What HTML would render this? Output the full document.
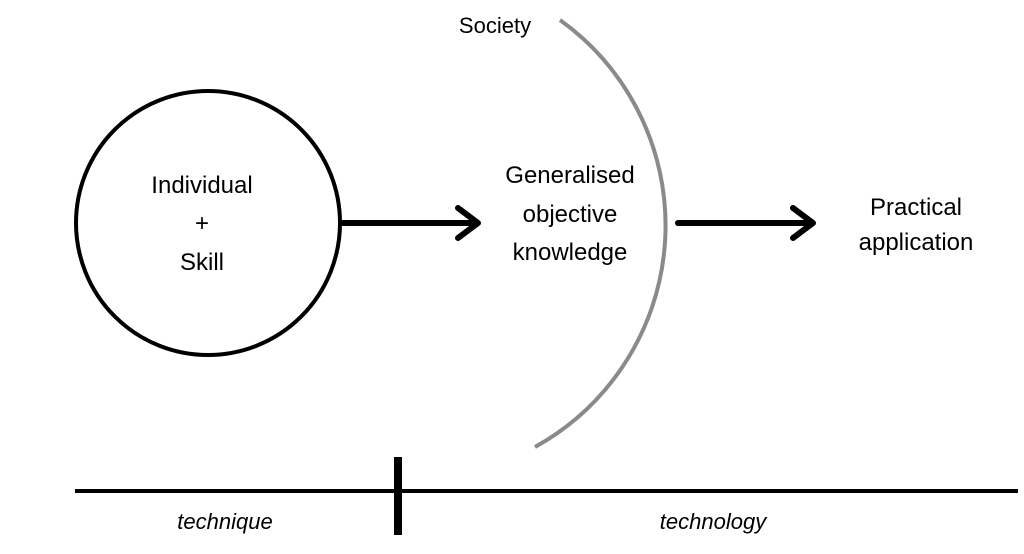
<!DOCTYPE html>
<html><head><style>body{margin:0;background:#fff}</style></head><body>
<svg width="1024" height="549" viewBox="0 0 1024 549" xmlns="http://www.w3.org/2000/svg" font-family="Liberation Sans, sans-serif" font-size="24" fill="#000">
<rect width="1024" height="549" fill="#fff"/>
<circle cx="208" cy="223" r="132" fill="none" stroke="#000" stroke-width="4"/>
<path d="M560 20 A253 253 0 0 1 535 447" fill="none" stroke="#8a8a8a" stroke-width="4"/>
<g stroke="#000" stroke-width="6" fill="none" stroke-linecap="round" stroke-linejoin="round">
<line x1="343" y1="223" x2="477" y2="223"/>
<polyline points="458,208 478,223 458,238"/>
<line x1="678" y1="223" x2="812" y2="223"/>
<polyline points="793,208 813,223 793,238"/>
</g>
<line x1="75" y1="491" x2="1018" y2="491" stroke="#000" stroke-width="4"/>
<rect x="394" y="457" width="8" height="78" fill="#000"/>
<g text-anchor="middle">
<text x="202" y="193">Individual</text>
<text x="202" y="231">+</text>
<text x="202" y="270">Skill</text>
<text x="570" y="183">Generalised</text>
<text x="570" y="222">objective</text>
<text x="570" y="260">knowledge</text>
<text x="916" y="215">Practical</text>
<text x="916" y="250">application</text>
<text x="495" y="33" font-size="22">Society</text>
<text x="225" y="529" font-style="italic" font-size="22">technique</text>
<text x="713" y="529" font-style="italic" font-size="22">technology</text>
</g>
</svg>
</body></html>
